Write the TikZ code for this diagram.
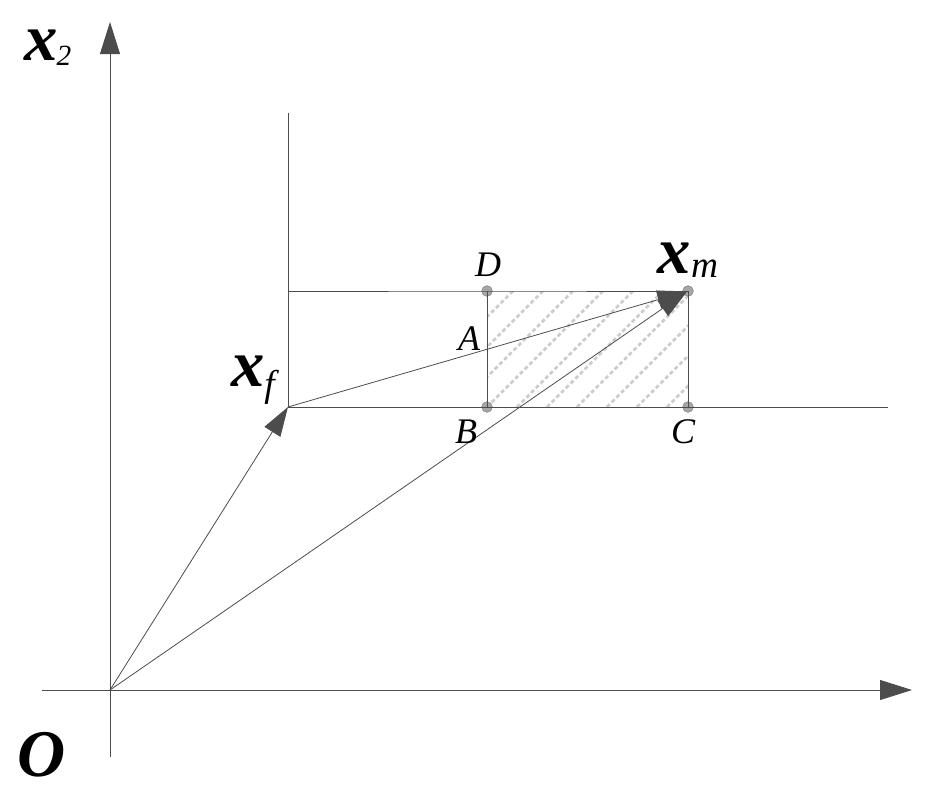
\documentclass[tikz,border=0pt]{standalone}
\usepackage{fontspec}
\setmainfont{Liberation Serif}
\usetikzlibrary{arrows.meta}
\begin{document}
\begin{tikzpicture}[x=0.75pt,y=-0.75pt,
  ln/.style={draw=black!70,line width=0.6pt},
  vec/.style={ln,-{Triangle[length=22pt,width=14pt,fill=black!70]}},
  ax/.style={draw=black!70,line width=0.6pt,-{Triangle[length=24pt,width=15pt,fill=black!70]}},
  pt/.style={circle,fill=black!35,draw=black!50,inner sep=0pt,minimum size=8pt},
  lab/.style={font=\itshape\fontsize{27}{27}\selectfont,inner sep=0pt},
  big/.style={font=\bfseries\itshape\fontsize{50}{50}\selectfont,inner sep=0pt}]
\useasboundingbox (0,0) rectangle (936,808);
% hatched rectangle
\begin{scope}
\clip (487,291) rectangle (688,407);
\foreach \k in {0,30,...,360}
  \draw[gray!40,line width=2pt,dash pattern=on 3pt off 2pt] (487+\k-150,407) -- (487+\k-34,291);
\end{scope}
\coordinate (O) at (110,690);
\coordinate (xend) at (912,690);
\coordinate (xstart) at (42,690);
\coordinate (ystart) at (110,757);
\coordinate (yend) at (110,22);
\coordinate (V1) at (288,113);
\coordinate (Xf) at (288,407);
\coordinate (Xm) at (688,291);
\coordinate (Rend) at (888,407);
\node[pt] (D) at (487,291) {};
\node[pt] (B) at (487,407) {};
\node[pt] (C) at (688,407) {};
\node[pt] (M) at (688,291) {};
\draw[ax] (xstart) -- (xend);
\draw[ax] (ystart) -- (yend);
\draw[ln] (V1) -- (Xf);
\draw[ln] (Xf) -- (Rend);
\draw[ln] (288,291) -- (D.center) -- (M.center) -- (C.center);
\draw[ln] (D.center) -- (B.center);
\draw[vec] (O) -- (Xf);
\draw[vec,shorten >=1pt] (O) -- (Xm);
\draw[vec,shorten >=1pt] (Xf) -- (Xm);
\node[lab] (lD) at (488,265) {D};
\node[lab] (lA) at (469,339) {A};
\node[lab] (lB) at (466,432) {B};
\node[lab] (lC) at (683,432) {C};
\node[big] (lx2) at (48,48) {\textit{x}\textnormal{\fontsize{22}{22}\selectfont\itshape\hspace{-1pt}\raisebox{-4pt}{2}}};
\node[big] (lxf) at (253,380) {\textit{x}\textnormal{\fontsize{28}{28}\selectfont\itshape\raisebox{-8pt}{f}}};
\node[big] (lxm) at (688,260) {\textit{x}\textnormal{\fontsize{28}{28}\selectfont\itshape\raisebox{-3pt}{m}}};
\node[big] (lO) at (42,755) {O};
\end{tikzpicture}
\end{document}
